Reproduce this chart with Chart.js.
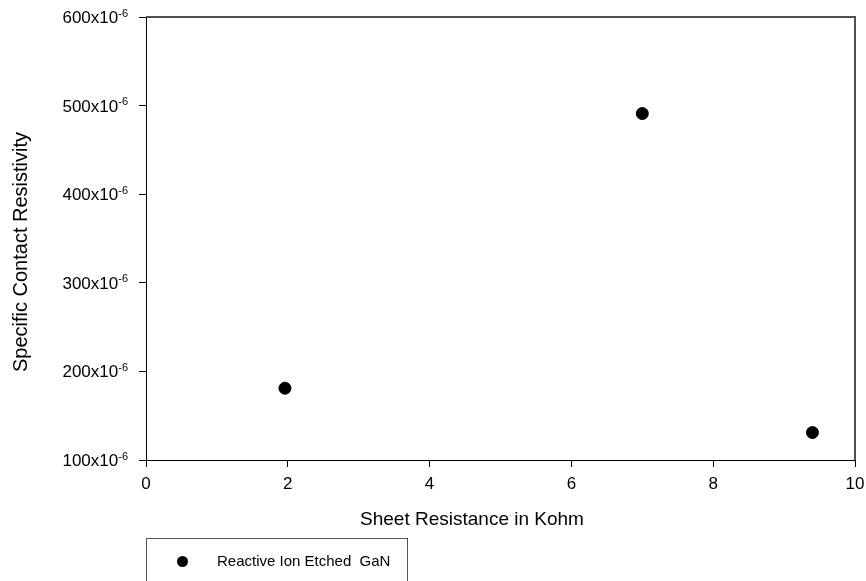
<!DOCTYPE html>
<html lang="en">
<head>
  <meta charset="UTF-8">
  <title>Specific Contact Resistivity</title>
  <script src="https://cdn.jsdelivr.net/npm/chart.js"></script>
  <style>
    html, body { margin: 0; padding: 0; background: #fff; }
    #wrap { position: relative; width: 866px; height: 581px; overflow: hidden; }
    #legend {
      position: absolute; left: 146px; top: 538px; width: 262px; height: 60px;
      border: 1px solid #555; box-sizing: border-box;
      font: 15px "Liberation Sans", Arial, sans-serif; color: #000;
    }
    #legend .item { position: absolute; left: 0; top: 12px; white-space: pre; line-height: 20px; }
    #legend .dot { position: absolute; left: 30px; top: 5px; width: 11px; height: 11px; border-radius: 50%; background: #000; }
    #legend .txt { position: absolute; left: 70px; top: 0; }
  </style>
</head>
<body>
  <div id="wrap">
    <canvas id="plot" width="866" height="581"></canvas>
    <div id="legend"></div>
  </div>

  <script>
    // sheet resistance (kOhm) and specific contact resistivity (x10^-6)
    const sheetRes = [1.96, 7.0, 9.4];
    const contactRes = [181, 491, 131];
    const seriesName = 'Reactive Ion Etched  GaN';
    const xTicks = [0, 2, 4, 6, 8, 10];
    const yTicks = [100, 200, 300, 400, 500, 600];
    const yExp = '-6';
    const xTitle = 'Sheet Resistance in Kohm';
    const yTitle = 'Specific Contact Resistivity';

    const FAMILY = '"Liberation Sans", Arial, sans-serif';

    // gray top/right frame, y labels with superscript exponent, axis titles
    const decor = {
      id: 'decor',
      beforeDatasetsDraw(chart) {
        const { ctx, chartArea: a } = chart;
        ctx.save();
        ctx.strokeStyle = '#505050';
        ctx.lineWidth = 2;
        ctx.beginPath();
        ctx.moveTo(a.left, a.top);
        ctx.lineTo(a.right, a.top);
        ctx.lineTo(a.right, a.bottom);
        ctx.stroke();
        ctx.restore();
      },
      afterDraw(chart) {
        const { ctx } = chart;
        const ys = chart.scales.y;
        ctx.save();
        ctx.fillStyle = '#000';
        ctx.textBaseline = 'alphabetic';
        ys.ticks.forEach(t => {
          const y = ys.getPixelForValue(t.value);
          const main = t.value + 'x10';
          ctx.font = '11px ' + FAMILY;
          const supW = ctx.measureText(yExp).width;
          ctx.textAlign = 'left';
          const right = 128;
          ctx.fillText(yExp, right - supW, y - 0.5);
          ctx.font = '17px ' + FAMILY;
          ctx.textAlign = 'right';
          ctx.fillText(main, right - supW, y + 6);
        });

        ctx.font = '19px ' + FAMILY;
        ctx.textAlign = 'center';
        ctx.textBaseline = 'middle';
        ctx.fillText(xTitle, 472, 520);

        ctx.translate(21, 252);
        ctx.rotate(-Math.PI / 2);
        ctx.font = '20px ' + FAMILY;
        ctx.fillText(yTitle, 0, 0);
        ctx.restore();
      }
    };

    const noPad = s => { s.paddingTop = 0; s.paddingBottom = 0; s.paddingLeft = 0; s.paddingRight = 0; };

    const chart = new Chart(document.getElementById('plot'), {
      type: 'scatter',
      data: {
        datasets: [{
          label: seriesName,
          data: sheetRes.map((x, i) => ({ x: x, y: contactRes[i] })),
          backgroundColor: '#000',
          borderColor: '#000',
          pointRadius: 6,
          pointHoverRadius: 6
        }]
      },
      options: {
        responsive: false,
        animation: false,
        layout: { padding: { left: 0, right: 11, top: 17, bottom: 0 } },
        plugins: { legend: { display: false }, tooltip: { enabled: false } },
        scales: {
          x: {
            type: 'linear', min: 0, max: 10,
            afterBuildTicks: s => { s.ticks = xTicks.map(v => ({ value: v })); },
            afterFit: s => { s.height = 121; noPad(s); },
            grid: { drawOnChartArea: false, drawTicks: true, tickLength: 7, tickColor: '#000' },
            border: { display: true, color: '#000', width: 1 },
            ticks: { color: '#000', font: { family: FAMILY, size: 17 }, padding: 7, maxRotation: 0 }
          },
          y: {
            type: 'linear', min: 100, max: 600,
            afterBuildTicks: s => { s.ticks = yTicks.map(v => ({ value: v })); },
            afterFit: s => { s.width = 146; noPad(s); },
            grid: { drawOnChartArea: false, drawTicks: true, tickLength: 7, tickColor: '#000' },
            border: { display: true, color: '#000', width: 1 },
            ticks: { display: false }
          }
        }
      },
      plugins: [decor]
    });

    // legend box below the plot
    const legend = document.getElementById('legend');
    chart.data.datasets.forEach(ds => {
      const item = document.createElement('div');
      item.className = 'item';
      item.innerHTML = '<span class="dot"></span><span class="txt"></span>';
      item.querySelector('.txt').textContent = ds.label;
      legend.appendChild(item);
    });
  </script>
</body>
</html>
